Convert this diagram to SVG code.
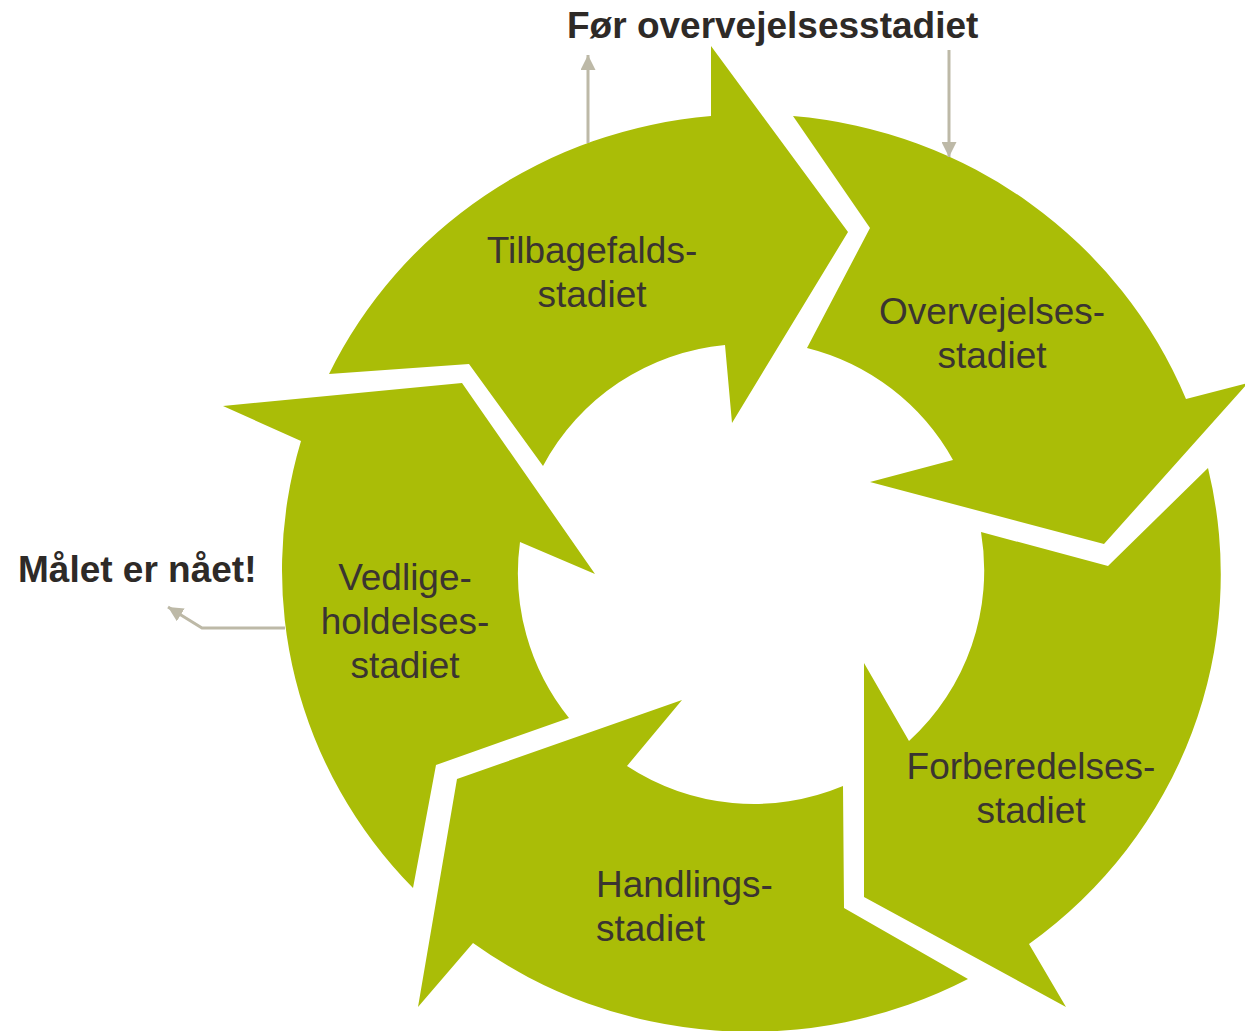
<svg xmlns="http://www.w3.org/2000/svg" width="1245" height="1031" viewBox="0 0 1245 1031">
  <style>
    .stage { fill: #aabd07; }
    .label { font-family: "Liberation Sans", Arial, sans-serif; font-size: 37px; fill: #3a3431; }
    .title { font-family: "Liberation Sans", Arial, sans-serif; font-size: 37px; font-weight: bold; fill: #2e2a27; }
    .conn { fill: none; stroke: #bdb9a7; stroke-width: 3; }
  </style>
  <defs>
    <marker id="head" viewBox="0 0 10 10" refX="10" refY="5" markerWidth="15" markerHeight="15" markerUnits="userSpaceOnUse" orient="auto">
      <path d="M0,0 L10,5 L0,10 z" fill="#bdb9a7"/>
    </marker>
  </defs>
  <rect width="1245" height="1031" fill="#ffffff"/>

  <!-- stage 1: relapse -->
  <g id="stage-tilbagefald">
    <path class="stage" d="M329,374 L469,364 L543,466 A231,231 0 0 1 725,345 L732,423 L848,232 L711,46 L711,116 A468,458 0 0 0 329,374 Z"/>
    <text class="label" text-anchor="middle"><tspan x="592" y="263">Tilbagefalds-</tspan><tspan x="592" y="307">stadiet</tspan></text>
  </g>

  <!-- stage 2: contemplation -->
  <g id="stage-overvejelse">
    <path class="stage" d="M793,116 L870,228 L807,348 A231,231 0 0 1 953,460 L870,482 L1104,544 L1248,383 L1186,399 A468,458 0 0 0 793,116 Z"/>
    <text class="label" text-anchor="middle"><tspan x="992" y="324">Overvejelses-</tspan><tspan x="992" y="368">stadiet</tspan></text>
  </g>

  <!-- stage 3: preparation -->
  <g id="stage-forberedelse">
    <path class="stage" d="M1208,468 L1108,566 L981,532 A231,231 0 0 1 909,741 L864,663 L864,897 L1066,1007 L1029,944 A468,458 0 0 0 1208,468 Z"/>
    <text class="label" text-anchor="middle"><tspan x="1031" y="779">Forberedelses-</tspan><tspan x="1031" y="823">stadiet</tspan></text>
  </g>

  <!-- stage 4: action -->
  <g id="stage-handling">
    <path class="stage" d="M968,979 L844,908 L843,786 A231,231 0 0 1 627,766 L682,700 L457,779 L418,1007 L473,943 A468,458 0 0 0 968,979 Z"/>
    <text class="label"><tspan x="596" y="897">Handlings-</tspan><tspan x="596" y="941">stadiet</tspan></text>
  </g>

  <!-- stage 5: maintenance -->
  <g id="stage-vedligeholdelse">
    <path class="stage" d="M413,888 L436,765 L569,718 A231,231 0 0 1 520,542 L595,574 L462,383 L223,406 L301,441 A468,458 0 0 0 413,888 Z"/>
    <text class="label" text-anchor="middle"><tspan x="405" y="590">Vedlige-</tspan><tspan x="405" y="634">holdelses-</tspan><tspan x="405" y="678">stadiet</tspan></text>
  </g>

  <!-- outside labels -->
  <g id="label-foer">
    <text class="title" x="567" y="38">Før overvejelsesstadiet</text>
  </g>
  <g id="label-maal">
    <text class="title" x="18" y="582">Målet er nået!</text>
  </g>

  <!-- connectors -->
  <g id="connectors">
    <path class="conn" d="M588,143 L588,55" marker-end="url(#head)"/>
    <path class="conn" d="M949,50 L949,157" marker-end="url(#head)"/>
    <path class="conn" d="M285,628 L202,628 L168,607" marker-end="url(#head)"/>
  </g>
</svg>
